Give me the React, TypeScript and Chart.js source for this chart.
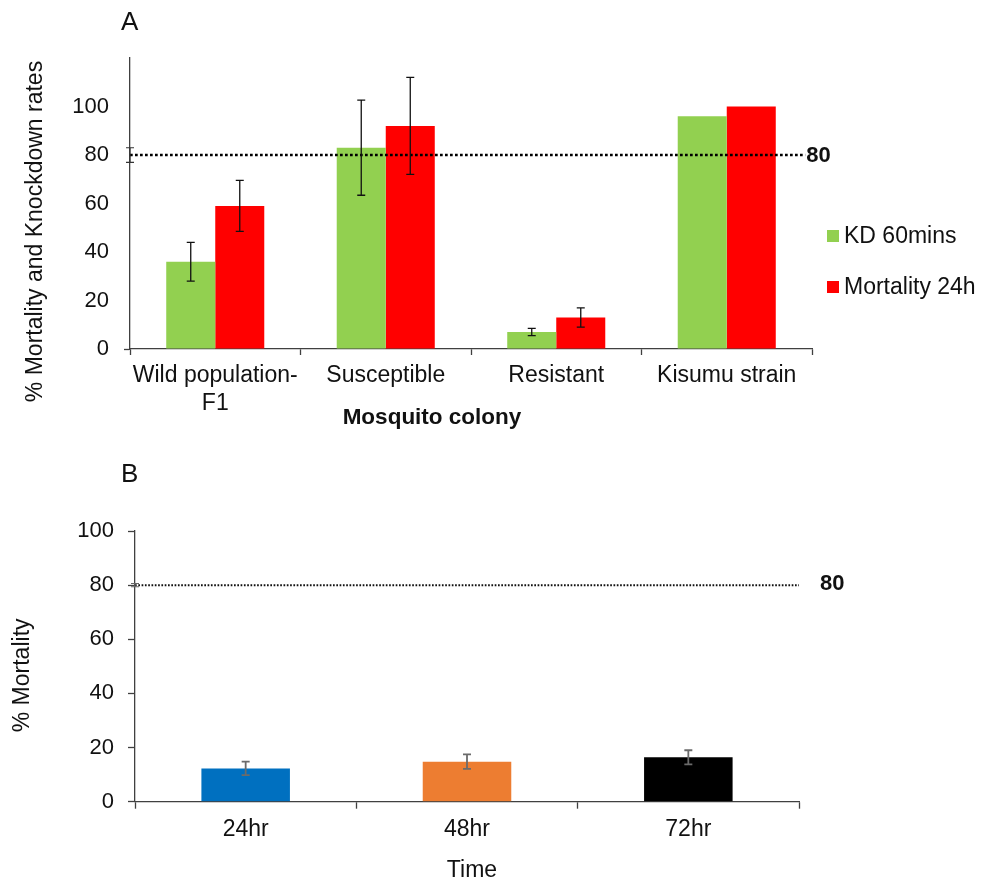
import React, { useEffect, useRef } from 'react';
import { Chart, registerables } from 'chart.js';

Chart.register(...registerables);

// ---------- Panel A data ----------
const coloniesA: (string | string[])[] = [['Wild population-', 'F1'], 'Susceptible', 'Resistant', 'Kisumu strain'];
const kd60 = [36, 83, 7, 96];
const kd60Err = [8, 19.6, 1.5, 0];
const mort24 = [59, 92, 13, 100];
const mort24Err = [10.5, 20, 4, 0];
const seriesLabelsA = ['KD 60mins', 'Mortality 24h'];
const thresholdA = 80;
const thresholdSpanA = [0, 0.99];
const thresholdErrA = 3;
const yTicksMaxLabelA = 100;

// ---------- Panel B data ----------
const timesB = ['24hr', '48hr', '72hr'];
const mortalityB = [12.3, 14.8, 16.4];
const mortalityBErr = [2.5, 2.7, 2.6];
const thresholdB = 80;
const thresholdSpanB = [0, 1];
const thresholdErrB = 0.6;

const FONT = '"Liberation Sans", Arial, Helvetica, sans-serif';
const TEXT = '#111111';
const AXIS = '#404040';

function strokeErrorBar(ctx: CanvasRenderingContext2D, x: number, yT: number, yB: number, cap: number, color: string, width: number) {
  ctx.save();
  ctx.strokeStyle = color;
  ctx.lineWidth = width;
  ctx.beginPath();
  ctx.moveTo(x, yT);
  ctx.lineTo(x, yB);
  ctx.moveTo(x - cap, yT);
  ctx.lineTo(x + cap, yT);
  ctx.moveTo(x - cap, yB);
  ctx.lineTo(x + cap, yB);
  ctx.stroke();
  ctx.restore();
}

const errorBarPlugin = {
  id: 'errorBars',
  afterDatasetsDraw(chart: any) {
    const ctx = chart.ctx;
    chart.data.datasets.forEach((ds: any, i: number) => {
      const errs = ds.errors;
      if (!errs) return;
      const meta = chart.getDatasetMeta(i);
      const yScale = chart.scales[meta.yAxisID];
      meta.data.forEach((el: any, j: number) => {
        const e = errs[j];
        if (!e) return;
        const v = ds.data[j];
        strokeErrorBar(ctx, el.x, yScale.getPixelForValue(v + e), yScale.getPixelForValue(v - e), ds.errorCap || 4, ds.errorColor || '#000', ds.errorWidth || 1.3);
      });
    });
  },
};

// threshold reference line drawn through the chart's y scale and a hidden linear x scale ("x2")
function makeThresholdPlugin(value: number, span: number[], err: number, width: number, dash: number[], color: string, errColor: string) {
  return {
    id: 'threshold',
    afterDatasetsDraw(chart: any) {
      const ctx = chart.ctx;
      const y = chart.scales.y.getPixelForValue(value);
      const x0 = chart.scales.x2.getPixelForValue(span[0]);
      const x1 = chart.scales.x2.getPixelForValue(span[1]);
      ctx.save();
      ctx.strokeStyle = color;
      ctx.lineWidth = width;
      ctx.setLineDash(dash);
      ctx.beginPath();
      ctx.moveTo(x0, y);
      ctx.lineTo(x1, y);
      ctx.stroke();
      ctx.restore();
      if (err) {
        strokeErrorBar(ctx, x0, chart.scales.y.getPixelForValue(value + err), chart.scales.y.getPixelForValue(value - err), 4, errColor, 1.2);
      }
    },
  };
}

function drawText(ctx: CanvasRenderingContext2D, text: string, x: number, y: number, font: string, align: CanvasTextAlign = 'center', rotate = 0) {
  ctx.save();
  ctx.fillStyle = TEXT;
  ctx.font = font;
  ctx.textAlign = align;
  ctx.textBaseline = 'middle';
  ctx.translate(x, y);
  if (rotate) ctx.rotate(rotate);
  ctx.fillText(text, 0, 0);
  ctx.restore();
}

const decorA = {
  id: 'decorA',
  afterDraw(chart: any) {
    const ctx = chart.ctx;
    const area = chart.chartArea;
    const y = chart.scales.y;
    const x2 = chart.scales.x2;
    drawText(ctx, 'A', area.left - 9, 23, `26px ${FONT}`, 'left');
    drawText(ctx, '% Mortality and Knockdown rates', 36, (area.top + area.bottom) / 2 + 28, `23px ${FONT}`, 'center', -Math.PI / 2);
    drawText(ctx, 'Mosquito colony', (area.left + area.right) / 2 - 39, 418, `bold 22.5px ${FONT}`, 'center');
    drawText(ctx, String(thresholdA), x2.getPixelForValue(thresholdSpanA[1]) + 1, y.getPixelForValue(thresholdA) + 1, `bold 22px ${FONT}`, 'left');
    // legend
    chart.data.datasets.forEach((d: any, i: number) => {
      const cy = 236 + i * 51;
      ctx.save();
      ctx.fillStyle = d.backgroundColor;
      ctx.fillRect(area.right + 15, cy - 6, 12, 12);
      ctx.restore();
      drawText(ctx, d.label, area.right + 32, cy + 1, `23px ${FONT}`, 'left');
    });
  },
};

const decorB = {
  id: 'decorB',
  afterDraw(chart: any) {
    const ctx = chart.ctx;
    const area = chart.chartArea;
    const y = chart.scales.y;
    const x2 = chart.scales.x2;
    drawText(ctx, 'B', area.left - 14, 35, `26px ${FONT}`, 'left');
    drawText(ctx, '% Mortality', 23, (area.top + area.bottom) / 2 + 9, `23px ${FONT}`, 'center', -Math.PI / 2);
    drawText(ctx, 'Time', (area.left + area.right) / 2 + 5, 431, `23px ${FONT}`, 'center');
    drawText(ctx, String(thresholdB), x2.getPixelForValue(thresholdSpanB[1]) + 21, y.getPixelForValue(thresholdB) - 1, `bold 22px ${FONT}`, 'left');
  },
};

export default function App() {
  const refA = useRef<HTMLCanvasElement>(null);
  const refB = useRef<HTMLCanvasElement>(null);

  useEffect(() => {
    const tickFont = { family: FONT, size: 22 };
    const labelFont = { family: FONT, size: 23 };

    const chartA = new Chart(refA.current as HTMLCanvasElement, {
      type: 'bar',
      data: {
        labels: coloniesA as any,
        datasets: [
          {
            label: seriesLabelsA[0],
            data: kd60,
            backgroundColor: '#92D050',
            errors: kd60Err,
            errorCap: 4,
            errorColor: '#111',
            errorWidth: 1.3,
          } as any,
          {
            label: seriesLabelsA[1],
            data: mort24,
            backgroundColor: '#FF0000',
            errors: mort24Err,
            errorCap: 4,
            errorColor: '#111',
            errorWidth: 1.3,
          } as any,
        ],
      },
      options: {
        animation: false,
        responsive: false,
        maintainAspectRatio: false,
        layout: { padding: { left: 0, top: 58, right: 177, bottom: 0 } },
        plugins: { legend: { display: false }, tooltip: { enabled: false } },
        datasets: { bar: { barPercentage: 1, categoryPercentage: 0.575 } },
        scales: {
          x: {
            type: 'category',
            offset: true,
            grid: { display: true, offset: true, drawOnChartArea: false, tickLength: 6, tickColor: AXIS, tickWidth: 1.3 },
            border: { color: AXIS, width: 1.3 },
            ticks: { padding: 7, color: TEXT, font: labelFont, maxRotation: 0, autoSkip: false },
            afterFit: (s: any) => { s.height = 91; },
          },
          x2: { type: 'linear', display: false, min: 0, max: 1, offset: false, position: 'bottom' },
          y: {
            min: 0,
            max: 120,
            ticks: {
              stepSize: 20,
              padding: 15,
              color: TEXT,
              font: tickFont,
              callback: (v: any) => (v > yTicksMaxLabelA ? '' : v),
            },
            grid: {
              display: true,
              drawOnChartArea: false,
              tickLength: 6,
              tickWidth: 1.3,
              tickColor: (c: any) => (c.tick && c.tick.value === 0 ? AXIS : 'rgba(0,0,0,0)'),
            },
            border: { color: AXIS, width: 1.3 },
            afterFit: (s: any) => { s.width = 130; },
          },
        },
      } as any,
      plugins: [
        makeThresholdPlugin(thresholdA, thresholdSpanA, thresholdErrA, 2.7, [2.7, 2.3], '#000', '#333'),
        errorBarPlugin,
        decorA,
      ],
    });

    const chartB = new Chart(refB.current as HTMLCanvasElement, {
      type: 'bar',
      data: {
        labels: timesB,
        datasets: [
          {
            label: '% Mortality',
            data: mortalityB,
            backgroundColor: ['#0070C0', '#ED7D31', '#000000'],
            errors: mortalityBErr,
            errorCap: 4,
            errorColor: '#6b6b6b',
            errorWidth: 1.8,
          } as any,
        ],
      },
      options: {
        animation: false,
        responsive: false,
        maintainAspectRatio: false,
        layout: { padding: { left: 0, top: 91, right: 190, bottom: 0 } },
        plugins: { legend: { display: false }, tooltip: { enabled: false } },
        datasets: { bar: { barPercentage: 1, categoryPercentage: 0.4 } },
        scales: {
          x: {
            type: 'category',
            offset: true,
            grid: { display: true, offset: true, drawOnChartArea: false, tickLength: 7, tickColor: AXIS, tickWidth: 1.3 },
            border: { color: AXIS, width: 1.3 },
            ticks: { padding: 7, color: TEXT, font: labelFont, maxRotation: 0, autoSkip: false },
            afterFit: (s: any) => { s.height = 78.3; },
          },
          x2: { type: 'linear', display: false, min: 0, max: 1, offset: false, position: 'bottom' },
          y: {
            min: 0,
            max: 100,
            ticks: { stepSize: 20, padding: 14, color: TEXT, font: tickFont },
            grid: { display: true, drawOnChartArea: false, tickLength: 7, tickWidth: 1.3, tickColor: AXIS },
            border: { color: AXIS, width: 1.3 },
            afterFit: (s: any) => { s.width = 135; },
          },
        },
      } as any,
      plugins: [
        makeThresholdPlugin(thresholdB, thresholdSpanB, thresholdErrB, 2, [1.7, 1.6], '#111', '#666'),
        errorBarPlugin,
        decorB,
      ],
    });

    return () => {
      chartA.destroy();
      chartB.destroy();
    };
  }, []);

  return (
    <div style={{ position: 'absolute', left: 0, top: 0, width: 989, height: 880, background: '#ffffff' }}>
      <canvas ref={refA} width={989} height={440} style={{ position: 'absolute', left: 0, top: 0, width: 989, height: 440 }} />
      <canvas ref={refB} width={989} height={440} style={{ position: 'absolute', left: 0, top: 440, width: 989, height: 440 }} />
    </div>
  );
}
